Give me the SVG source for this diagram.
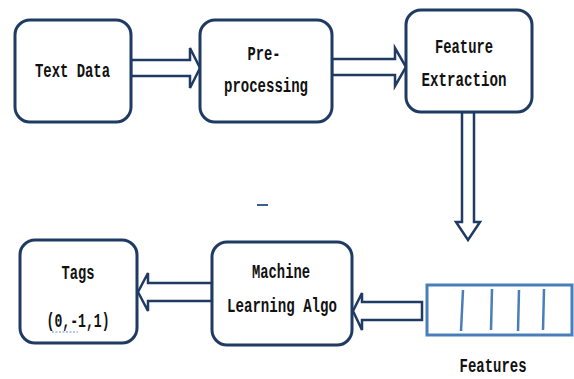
<svg xmlns="http://www.w3.org/2000/svg" width="574" height="379" viewBox="0 0 574 379">
<style>
.box{fill:#fff;stroke:#1f3b63;stroke-width:3}
.arr{fill:#fff;stroke:#1f3b63;stroke-width:2.5;stroke-linejoin:miter}
.t{font-family:"Liberation Mono","Courier New",monospace;font-weight:bold;font-size:20px;fill:#111;text-anchor:middle}
.feat{fill:#fff;stroke:#4a7ebb;stroke-width:3}
.bar{stroke:#4a7ebb;stroke-width:2.5}
</style>
<rect width="574" height="379" fill="#fff"/>
<g id="connectors">
<polygon class="arr" points="131,60 190,60 190,48 200,68 190,88 190,76 131,76"/>
<polygon class="arr" points="332,59 395,59 395,48 406,67 395,86 395,75 332,75"/>
<polygon class="arr" points="462,112 462,222 456,222 468,240 480,222 474,222 474,112"/>
<polygon class="arr" points="212,283 148,283 148,273 138,292 148,311 148,301 212,301"/>
<polygon class="arr" points="422,302 362,302 362,293 353,311 362,330 362,320 422,320"/>
</g>
<g id="text-data">
<rect class="box" x="15" y="20" width="116" height="102" rx="15"/>
<text class="t" x="72.5" y="77" textLength="75" lengthAdjust="spacingAndGlyphs">Text Data</text>
</g>
<g id="pre-processing">
<rect class="box" x="200" y="20" width="132" height="102" rx="15"/>
<text class="t" x="264" y="60" textLength="33" lengthAdjust="spacingAndGlyphs">Pre-</text>
<text class="t" x="266" y="92" textLength="84" lengthAdjust="spacingAndGlyphs">processing</text>
</g>
<g id="feature-extraction">
<rect class="box" x="406" y="10" width="126" height="102" rx="15"/>
<text class="t" x="464" y="53" textLength="58" lengthAdjust="spacingAndGlyphs">Feature</text>
<text class="t" x="464" y="86" textLength="85" lengthAdjust="spacingAndGlyphs">Extraction</text>
</g>
<g id="tags">
<rect class="box" x="20" y="240" width="117" height="103" rx="15"/>
<text class="t" x="78" y="279" textLength="33" lengthAdjust="spacingAndGlyphs">Tags</text>
<text class="t" x="78" y="327" textLength="63" lengthAdjust="spacingAndGlyphs">(0,-1,1)</text>
<line x1="52" y1="332" x2="78" y2="332" stroke="#6a8fd8" stroke-width="1" stroke-dasharray="2,1.5"/>
</g>
<g id="ml-algo">
<rect class="box" x="212" y="242" width="140" height="103" rx="15"/>
<text class="t" x="281" y="278" textLength="58" lengthAdjust="spacingAndGlyphs">Machine</text>
<text class="t" x="282" y="312" textLength="110" lengthAdjust="spacingAndGlyphs">Learning Algo</text>
</g>
<g id="features">
<rect class="feat" x="427" y="285" width="145" height="50"/>
<line class="bar" x1="463" y1="290" x2="461" y2="331"/>
<line class="bar" x1="492" y1="289" x2="491" y2="330"/>
<line class="bar" x1="519" y1="290" x2="518" y2="331"/>
<line class="bar" x1="544" y1="289" x2="543" y2="330"/>
<text class="t" x="493" y="372" textLength="67" lengthAdjust="spacingAndGlyphs">Features</text>
</g>
<line x1="257" y1="205" x2="268" y2="205" stroke="#3d5f8f" stroke-width="2"/>
</svg>
